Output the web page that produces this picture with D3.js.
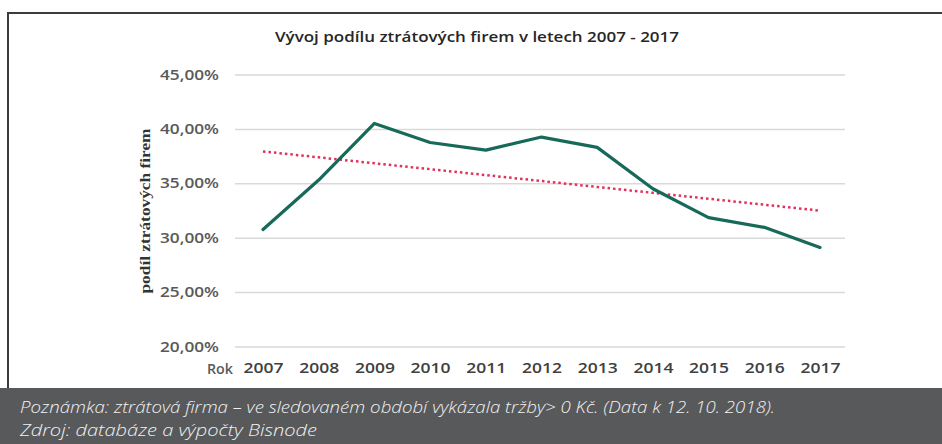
<!DOCTYPE html>
<html>
<head>
<meta charset="utf-8">
<script src="https://cdn.jsdelivr.net/npm/d3@7"></script>
<style>
  html, body { margin: 0; padding: 0; background: #fff; }
  svg { display: block; }
</style>
</head>
<body>
<svg id="chart" width="942" height="444"></svg>
<script>
// hodnoty
let years = ["2007", "2008", "2009", "2010", "2011", "2012", "2013", "2014", "2015", "2016", "2017"];
let podil = [30.75, 35.3, 40.5, 38.75, 38.05, 39.25, 38.3, 34.5, 31.85, 30.95, 29.1];
let yTicks = [20, 25, 30, 35, 40, 45];
let title = "Vývoj podílu ztrátových firem v letech 2007 - 2017";
let yTitle = "podíl ztrátových firem";
let noteLines = [
  "Poznámka: ztrátová firma – ve sledovaném období vykázala tržby> 0 Kč. (Data k 12. 10. 2018).",
  "Zdroj: databáze a výpočty Bisnode"
];

let svg = d3.select("#chart");

// lineární trend (nejmenší čtverce)
let n = podil.length;
let mx = (n - 1) / 2;
let my = d3.mean(podil);
let slope = d3.sum(podil, (v, i) => (i - mx) * (v - my)) / d3.sum(podil, (v, i) => (i - mx) * (i - mx));
let trend = podil.map((v, i) => my + slope * (i - mx));

// rámeček
svg.append("path")
  .attr("d", "M8,388 V13 H942")
  .attr("fill", "none")
  .attr("stroke", "#3c3c3c")
  .attr("stroke-width", 2);

svg.append("text")
  .attr("x", 477).attr("y", 42)
  .attr("text-anchor", "middle")
  .attr("textLength", 404).attr("lengthAdjust", "spacingAndGlyphs")
  .style("font-family", "'Open Sans', sans-serif")
  .style("font-weight", 600)
  .style("font-size", "15px")
  .attr("fill", "#262626")
  .text(title);

let x = d3.scalePoint().domain(years).range([263, 820]);
let y = d3.scaleLinear().domain([20, 45]).range([346.5, 74.5]);

// osa y + mřížka
let gy = svg.append("g")
  .attr("transform", "translate(235,0)")
  .call(d3.axisLeft(y).tickValues(yTicks).tickSize(-610).tickPadding(16)
    .tickFormat(d => d3.format(".2f")(d).replace(".", ",") + "%"));
gy.select(".domain").remove();
gy.selectAll(".tick line").attr("stroke", "#d9d9d9").attr("stroke-width", 1.5);
gy.selectAll(".tick text")
  .attr("fill", "#595959")
  .attr("textLength", 59).attr("lengthAdjust", "spacingAndGlyphs")
  .style("font-family", "'Open Sans', sans-serif")
  .style("font-weight", 600)
  .style("font-size", "14.5px");

// osa x
let gx = svg.append("g")
  .attr("transform", "translate(0,356)")
  .call(d3.axisBottom(x).tickSize(0).tickPadding(6));
gx.select(".domain").remove();
gx.selectAll(".tick text")
  .attr("fill", "#404040")
  .attr("textLength", 40).attr("lengthAdjust", "spacingAndGlyphs")
  .style("font-family", "'Open Sans', sans-serif")
  .style("font-weight", 600)
  .style("font-size", "15px");

svg.append("text")
  .attr("x", 220).attr("y", 374)
  .attr("text-anchor", "middle")
  .attr("textLength", 26).attr("lengthAdjust", "spacingAndGlyphs")
  .style("font-family", "'Open Sans', sans-serif")
  .style("font-weight", 600)
  .style("font-size", "14px")
  .attr("fill", "#595959")
  .text("Rok");

svg.append("text")
  .attr("transform", "translate(150,211) rotate(-90)")
  .attr("text-anchor", "middle")
  .attr("textLength", 165).attr("lengthAdjust", "spacingAndGlyphs")
  .style("font-family", "'Liberation Serif', serif")
  .style("font-weight", 700)
  .style("font-size", "15px")
  .attr("fill", "#333")
  .text(yTitle);

let line = d3.line().x((d, i) => x(years[i])).y(d => y(d));

svg.append("path")
  .datum(trend)
  .attr("d", line)
  .attr("fill", "none")
  .attr("stroke", "#e2305c")
  .attr("stroke-width", 2.5)
  .attr("stroke-dasharray", "2.5,3");

svg.append("path")
  .datum(podil)
  .attr("d", line)
  .attr("fill", "none")
  .attr("stroke", "#17695a")
  .attr("stroke-width", 3.2)
  .attr("stroke-linejoin", "round")
  .attr("stroke-linecap", "round");

// poznámka dole
svg.append("rect")
  .attr("x", 0).attr("y", 388)
  .attr("width", 942).attr("height", 56)
  .attr("fill", "#58595b");

svg.selectAll("text.note")
  .data(noteLines)
  .join("text")
  .attr("class", "note")
  .attr("x", 20)
  .attr("y", (d, i) => 413 + i * 23)
  .attr("textLength", (d, i) => i === 0 ? 755 : 297)
  .attr("lengthAdjust", "spacingAndGlyphs")
  .style("font-family", "'Open Sans', sans-serif")
  .style("font-style", "italic")
  .style("font-weight", 300)
  .style("font-size", "17px")
  .attr("fill", "#f2f2f2")
  .text(d => d);
</script>
</body>
</html>
